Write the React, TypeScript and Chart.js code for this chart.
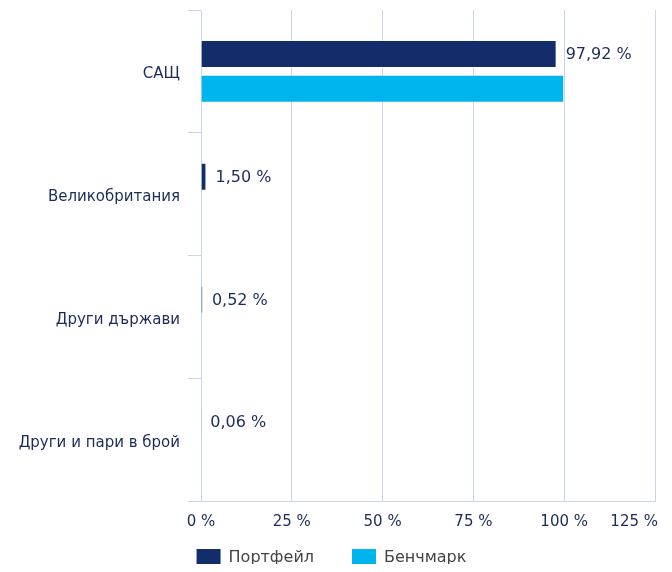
import React, { useEffect, useRef } from 'react';
import { Chart, registerables } from 'chart.js';

Chart.register(...registerables);

const categories = ['САЩ', 'Великобритания', 'Други държави', 'Други и пари в брой'];
const seriesNames = ['Портфейл', 'Бенчмарк'];
const portfolio = [97.92, 1.5, 0.52, 0.06];
const benchmark = [100, 0, 0, 0];
const xTicks = [0, 25, 50, 75, 100, 125];

const NAVY = '#132d6b';
const CYAN = '#00b5ed';
const TEXT = '#1c2b5a';
const GRID = '#cad5e5';
const FONT = '"DejaVu Sans", Verdana, sans-serif';
const FONT_SIZE = 15;
const LABEL_SIZE = 16;

const fmt = (v: number) => v.toFixed(2).replace('.', ',') + ' %';

const valueLabels = {
  id: 'valueLabels',
  afterDatasetsDraw(chart: any) {
    const ctx = chart.ctx;
    const meta = chart.getDatasetMeta(0);
    ctx.save();
    ctx.font = `${LABEL_SIZE}px ${FONT}`;
    ctx.fillStyle = TEXT;
    ctx.textAlign = 'left';
    ctx.textBaseline = 'middle';
    meta.data.forEach((el: any, i: number) => {
      ctx.fillText(fmt(portfolio[i]), el.x + 9, el.y + 1);
    });
    ctx.restore();
  },
};

// x-axis tick labels (last one kept inside the canvas, as in the reference)
const xTickLabels = {
  id: 'xTickLabels',
  afterDraw(chart: any) {
    const s = chart.scales.x;
    const ctx = chart.ctx;
    ctx.save();
    ctx.font = `${FONT_SIZE}px ${FONT}`;
    ctx.fillStyle = TEXT;
    ctx.textBaseline = 'middle';
    xTicks.forEach((v, i) => {
      const last = i === xTicks.length - 1;
      ctx.textAlign = last ? 'right' : 'center';
      ctx.fillText(v + ' %', s.getPixelForValue(v) + (last ? 3 : 0), s.top + 21);
    });
    ctx.restore();
  },
};

export default function App() {
  const ref = useRef<HTMLCanvasElement | null>(null);

  useEffect(() => {
    if (!ref.current) return;
    const chart = new Chart(ref.current, {
      type: 'bar',
      data: {
        labels: categories,
        datasets: [
          {
            label: seriesNames[0],
            data: portfolio,
            backgroundColor: NAVY,
            borderColor: 'rgba(255,255,255,0.5)',
            borderWidth: 1,
            categoryPercentage: 0.57,
            barPercentage: 0.8,
          },
          {
            label: seriesNames[1],
            data: benchmark,
            backgroundColor: CYAN,
            borderColor: 'rgba(255,255,255,0.5)',
            borderWidth: 1,
            categoryPercentage: 0.57,
            barPercentage: 0.8,
          },
        ],
      },
      options: {
        indexAxis: 'y',
        animation: false,
        responsive: true,
        maintainAspectRatio: false,
        layout: { padding: { top: 2, right: 17, left: 0, bottom: 0 } },
        scales: {
          x: {
            min: 0,
            max: 125,
            afterBuildTicks: (s: any) => {
              s.ticks = xTicks.map((v) => ({ value: v }));
            },
            afterFit: (s: any) => {
              s.height = 10;
              s.paddingLeft = 0;
              s.paddingRight = 0;
            },
            grid: { color: GRID, drawTicks: false, lineWidth: 1 },
            border: { color: GRID },
            ticks: { display: false },
          },
          y: {
            afterFit: (s: any) => {
              s.width = 193;
              s.paddingTop = 0;
              s.paddingBottom = 0;
            },
            grid: {
              color: GRID,
              drawOnChartArea: false,
              drawTicks: true,
              tickLength: 13,
              offset: true,
            },
            border: { color: GRID },
            ticks: {
              padding: 8,
              labelOffset: 3,
              color: TEXT,
              font: { family: FONT, size: FONT_SIZE },
            },
          },
        },
        plugins: {
          legend: {
            position: 'bottom',
            labels: {
              boxWidth: 24,
              boxHeight: 18,
              padding: 38,
              color: '#444444',
              font: { family: FONT, size: LABEL_SIZE },
              generateLabels: (c: any) =>
                (Chart.defaults.plugins.legend.labels as any)
                  .generateLabels(c)
                  .map((l: any) => ({ ...l, lineWidth: 0 })),
            },
          },
          tooltip: { enabled: false },
        },
      },
      plugins: [valueLabels, xTickLabels],
    } as any);
    return () => chart.destroy();
  }, []);

  return (
    <div style={{ width: 664, height: 564, overflow: 'hidden', marginBottom: -8 }}>
      <div style={{ position: 'relative', width: 664, height: 569 }}>
        <canvas ref={ref} />
      </div>
    </div>
  );
}
